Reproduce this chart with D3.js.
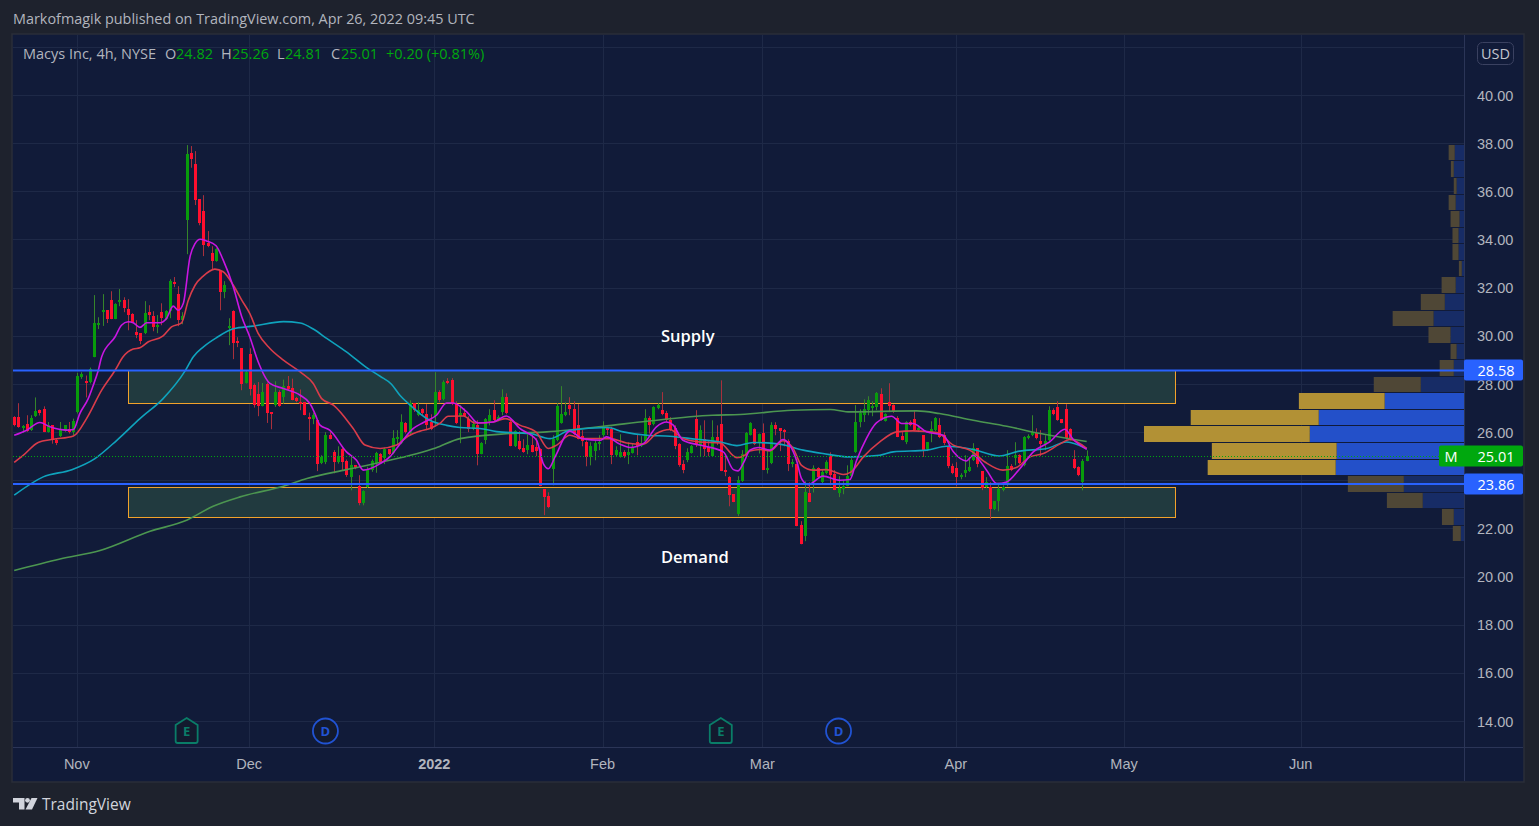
<!DOCTYPE html>
<html>
  <head>
    <meta charset="utf-8">
    <title>Macys Inc, 4h, NYSE</title>
    <script src="https://d3js.org/d3.v7.min.js"></script>
    <style>
      html, body { margin: 0; padding: 0; background: #1e222d; }
      svg { display: block; font-family: "Open Sans", sans-serif; }
      .tick text { fill: #b2b5be; font-size: 14.5px; }
      .domain { display: none; }
    </style>
  </head>
  <body>
    <svg id="chart" width="1539" height="826"></svg>
    <script>
      // candles, one 4h bar per entry
      const opens = [
        26.65,26.64,26.17,26.35,26.10,26.68,26.93,26.97,26.02,26.30,
        25.71,25.82,26.06,26.13,26.02,26.85,28.29,28.13,28.07,29.13,
        30.46,31.00,31.08,31.50,30.71,31.42,31.50,31.13,30.92,30.17,
        30.13,30.13,31.00,30.84,30.42,31.00,30.71,31.04,32.25,31.75,
        30.67,34.82,37.60,37.15,35.69,35.20,33.87,33.45,33.12,32.70,
        31.83,30.34,31.04,29.80,29.50,28.05,29.26,27.97,27.59,27.12,
        28.00,26.85,27.12,27.68,27.47,27.93,27.87,27.43,27.25,27.26,
        26.64,26.55,26.51,24.73,24.77,25.89,25.18,24.77,25.31,24.81,
        24.15,24.64,23.77,23.07,23.72,24.44,24.73,25.10,24.96,25.30,
        25.13,25.72,25.54,26.39,25.96,27.22,26.72,26.97,26.76,26.43,
        26.68,27.68,27.38,28.13,28.17,27.18,26.68,26.80,26.55,26.14,
        26.30,25.10,25.68,26.47,26.93,26.51,26.85,27.47,26.43,25.43,
        25.64,25.35,25.27,25.48,25.39,25.31,23.65,23.36,24.48,25.68,
        26.39,26.72,27.14,26.97,26.30,25.85,25.60,24.99,25.23,25.52,
        25.89,26.18,26.14,25.06,24.98,25.18,25.06,25.14,25.60,25.43,
        25.64,26.60,26.35,27.01,26.93,26.80,26.51,26.18,25.52,24.69,
        24.85,25.14,26.55,25.43,25.72,25.39,25.02,25.81,26.35,24.44,
        24.15,23.44,22.61,23.98,25.06,25.89,26.14,25.56,25.97,24.44,
        24.73,26.30,26.18,26.10,25.64,24.69,24.69,22.15,21.70,23.48,
        23.94,24.52,23.94,24.31,25.02,24.27,23.48,23.65,23.77,24.19,
        25.18,26.43,26.72,26.93,27.05,27.05,27.59,26.47,27.26,27.14,
        26.60,25.85,25.60,26.43,26.55,26.10,25.89,25.31,26.02,26.10,
        26.30,25.89,25.39,24.60,24.52,24.15,24.31,24.40,24.85,25.35,
        24.40,23.73,23.73,22.82,23.15,23.61,23.81,24.60,24.94,25.06,
        24.64,25.77,25.89,25.97,25.64,25.52,25.68,26.93,27.05,26.55,
        26.97,26.14,24.90,24.56,23.94,24.82
      ];
      const highs = [
        26.68,27.22,26.31,26.72,26.72,27.46,26.96,27.09,26.44,26.30,
        25.75,26.44,26.30,26.44,26.58,28.48,28.51,28.37,28.70,31.71,
        30.79,31.75,31.08,31.87,31.37,31.96,31.62,31.54,30.96,30.67,
        30.13,31.46,31.29,31.04,30.88,31.37,31.08,32.37,32.46,32.08,
        31.00,37.94,37.90,37.69,35.69,35.86,34.37,33.74,33.66,32.75,
        32.29,30.75,31.08,29.96,29.50,28.59,29.50,28.04,28.10,28.06,
        28.08,26.85,28.13,27.76,28.20,28.35,28.24,27.48,27.79,27.26,
        26.83,26.83,26.55,25.06,26.02,26.02,25.27,25.43,25.38,24.88,
        25.02,24.64,24.23,23.60,24.58,24.88,25.20,25.15,25.38,25.32,
        26.10,26.10,26.76,26.44,27.34,27.22,27.26,27.01,27.18,26.76,
        28.51,27.76,28.17,28.26,28.26,27.30,27.14,27.00,26.68,26.51,
        26.51,25.60,26.60,26.97,27.34,26.72,27.80,27.63,26.51,26.10,
        26.06,25.72,25.93,25.89,25.77,25.35,23.65,23.52,25.89,27.22,
        27.93,27.26,27.47,27.30,27.18,26.10,25.68,25.60,25.68,25.89,
        26.47,26.24,26.24,25.43,25.93,25.27,25.60,25.56,25.93,25.85,
        26.97,26.68,27.09,27.22,27.68,26.90,26.64,26.30,25.56,24.85,
        25.35,25.48,26.93,26.30,26.51,25.64,26.51,26.30,28.17,25.06,
        24.19,23.44,24.19,25.27,26.02,26.43,26.18,25.96,26.38,25.27,
        26.43,26.43,26.18,26.15,25.72,24.90,24.69,22.32,23.98,23.94,
        24.64,24.56,24.44,24.85,25.18,24.44,24.19,24.02,24.64,24.94,
        27.14,26.97,27.38,27.51,27.30,27.68,27.84,26.80,28.05,27.17,
        26.68,26.02,26.47,26.51,26.93,26.30,25.89,25.60,26.47,26.64,
        26.60,26.02,25.48,24.71,24.77,24.31,25.06,24.90,25.56,25.35,
        24.40,24.15,23.94,23.15,23.86,23.81,25.27,24.69,25.60,25.10,
        25.85,25.93,26.72,26.18,26.10,25.89,27.09,27.01,27.30,26.55,
        27.18,26.18,25.27,24.60,24.90,25.26
      ];
      const lows = [
        26.26,26.20,25.99,26.03,26.07,26.65,26.71,26.02,26.00,25.54,
        25.48,25.82,26.03,25.96,25.89,26.79,28.23,27.46,28.04,29.13,
        30.30,30.43,30.55,30.71,30.71,31.25,31.00,30.25,30.55,29.92,
        29.67,30.09,30.67,30.21,30.13,30.46,30.67,30.75,32.04,30.42,
        30.50,33.41,37.00,35.45,34.61,33.33,33.70,32.75,33.10,31.08,
        31.58,29.63,29.05,29.55,27.76,28.04,27.54,27.04,26.68,27.09,
        26.40,26.14,27.07,27.07,27.20,27.76,27.34,27.26,26.93,26.72,
        25.68,26.35,24.40,24.69,24.69,25.72,24.31,24.71,24.44,24.16,
        23.60,24.48,22.98,22.98,23.70,24.37,24.33,24.70,24.69,25.06,
        25.10,25.48,25.52,25.96,25.89,26.86,26.68,26.72,26.10,26.10,
        26.26,27.26,27.34,28.01,27.14,26.35,25.56,26.65,26.02,26.10,
        24.64,25.10,25.52,26.30,26.47,26.47,26.72,26.76,25.43,25.40,
        25.27,25.16,25.10,25.18,25.02,23.77,22.57,22.86,23.81,25.64,
        26.37,26.68,26.72,25.89,25.72,25.43,24.60,24.64,24.85,25.27,
        25.82,25.90,24.69,25.02,24.96,24.94,24.69,25.13,25.06,25.40,
        25.64,25.96,26.30,26.97,26.72,26.43,26.06,25.31,24.58,24.31,
        24.77,25.13,25.40,25.02,25.02,25.02,24.99,25.48,24.40,24.19,
        22.94,23.11,22.53,23.95,25.02,25.88,25.48,25.13,24.44,24.30,
        24.69,25.89,25.23,25.43,24.40,24.56,22.11,21.36,21.49,23.11,
        23.51,24.10,23.88,24.27,23.81,23.61,23.32,23.44,23.77,24.16,
        25.16,26.22,26.44,26.72,26.68,26.93,26.49,26.46,26.85,26.82,
        25.81,25.68,25.52,26.26,26.06,26.02,24.99,25.23,25.60,26.06,
        25.77,25.48,24.52,24.27,23.77,24.06,24.15,24.37,24.82,24.56,
        23.61,23.69,22.40,22.78,22.73,23.56,23.77,24.40,24.64,24.69,
        24.60,25.72,25.85,25.72,25.02,25.27,25.64,26.72,26.49,26.39,
        25.72,25.68,24.48,24.19,23.60,24.81
      ];
      const closes = [
        26.31,26.24,26.26,26.07,26.60,26.89,26.79,26.02,26.30,25.68,
        25.57,26.13,26.30,26.02,26.47,28.34,28.42,28.06,28.62,30.55,
        30.55,31.08,30.71,30.71,31.33,31.50,31.17,30.88,30.59,30.05,
        29.80,30.96,30.88,30.38,30.46,30.75,31.04,32.29,32.20,30.67,
        30.84,37.56,37.36,35.65,34.70,33.78,33.74,33.12,33.62,31.83,
        32.12,30.42,29.71,29.71,28.00,28.51,27.80,27.12,27.09,27.70,
        26.80,26.76,27.68,27.09,27.93,27.80,27.38,27.30,27.20,26.72,
        26.55,26.72,24.69,24.99,25.89,25.72,24.77,25.02,24.77,24.23,
        24.64,24.52,23.07,23.56,24.48,24.81,25.14,24.78,25.32,25.10,
        25.77,25.81,26.43,26.02,27.22,26.93,26.93,26.79,26.30,26.13,
        27.68,27.34,28.09,28.05,27.18,26.39,26.80,26.68,26.14,26.35,
        25.10,25.56,26.55,26.72,26.51,26.64,27.47,26.80,25.43,26.06,
        25.31,25.18,25.48,25.21,25.23,23.77,23.32,22.90,25.72,27.09,
        26.76,26.85,26.97,25.93,25.72,25.64,24.99,25.43,25.56,25.60,
        26.22,26.10,25.06,25.27,25.18,25.02,25.18,25.39,25.43,25.56,
        26.60,26.30,27.05,27.14,26.76,26.51,26.10,25.43,24.64,24.44,
        25.18,25.43,25.48,26.10,25.31,25.18,25.81,25.60,24.40,24.40,
        23.40,23.11,24.02,25.10,25.97,26.39,25.52,25.93,24.44,24.52,
        26.30,26.14,26.06,26.02,24.69,24.77,22.11,21.36,23.52,23.11,
        24.52,24.15,24.35,24.77,24.23,23.61,23.69,23.77,24.19,24.85,
        26.43,26.80,26.97,27.34,27.09,27.63,26.51,26.76,27.09,26.85,
        25.81,25.68,26.43,26.30,26.10,26.18,25.27,25.60,26.14,26.60,
        25.81,25.54,24.60,24.31,24.15,24.23,24.44,24.56,25.35,24.69,
        23.69,23.94,22.82,23.15,23.65,23.73,24.60,24.44,25.06,24.73,
        25.81,25.85,26.02,25.77,25.52,25.64,26.93,26.76,26.51,26.39,
        25.77,25.72,24.52,24.23,24.81,25.01
      ];

      const magentaLine = [[0,25.89],[3,26.1],[6.1,26.42],[8.5,26.24],[12.5,26.1],[14.1,26.13],[15.6,26.79],[17.6,27.41],[18.8,27.97],[20,28.59],[20.8,29.15],[24,29.98],[25.5,30.46],[27.1,30.6],[28.3,30.56],[29.9,30.37],[31.5,30.56],[34.7,30.56],[36.2,30.74],[37.8,31.25],[39,31.08],[40.2,31.36],[41.8,33.3],[43,33.85],[44.2,34.03],[45.7,33.96],[48,33.76],[49.7,33.16],[52.1,32.05],[54.1,30.81],[56,29.98],[58,28.94],[60.8,28.04],[64,27.83],[68,27.55],[70.3,27.21],[71.5,26.79],[72.7,26.31],[75,26.1],[79,25.2],[81.4,24.85],[83,24.44],[84.6,24.5],[87,24.71],[89.3,24.99],[91.7,25.52],[94.9,26.17],[97.3,26.42],[100.4,26.72],[102.8,27.23],[104.4,27.23],[107.6,26.86],[110.3,26.4],[113.9,26.44],[117,26.69],[120.2,26.17],[124.2,25.68],[125.8,24.71],[127,24.5],[128.6,24.99],[132.1,26.06],[135.1,25.75],[139.3,25.68],[140.8,25.82],[144,25.52],[146.4,25.38],[149.6,25.54],[152.7,26.24],[155.1,26.44],[156.7,26.31],[159,25.68],[163,25.48],[168.6,25.2],[171,24.46],[172.1,24.41],[173.7,24.85],[174.9,25.27],[176.9,25.38],[179.7,25.27],[182.8,25.71],[184.4,25.48],[186,24.85],[187.2,24.09],[188.8,23.84],[192.3,24.19],[196.3,24.02],[198.7,24.05],[200.3,24.85],[202.6,25.75],[205,26.4],[208.6,26.68],[211,26.38],[213.7,26.38],[216.9,26.03],[220.9,25.89],[223.3,25.2],[226.4,24.82],[228,25.06],[231.2,24.44],[233.6,23.88],[236,23.95],[239.1,24.5],[242.3,25.2],[246.2,25.61],[249.8,26.14],[251.8,25.71],[255,25.3]];
      const redLine = [[0,24.76],[2.2,25.06],[5.7,25.59],[9.3,25.72],[14.1,25.86],[17.2,26.58],[20.8,27.76],[24,28.59],[25.9,29.15],[28.3,29.47],[29.9,29.52],[31.9,29.77],[35.4,30.02],[37.4,30.39],[39.8,30.56],[41.4,31.5],[43,32.12],[45,32.51],[47.7,32.79],[49.7,32.68],[52.1,32.12],[54.1,31.5],[56,30.95],[58,30.12],[60.8,29.49],[64,29.01],[68,28.52],[71.1,28.04],[73.1,27.41],[75.9,27.14],[80.6,26.17],[83.4,25.48],[87,25.34],[90.9,25.48],[93.7,25.86],[96.5,26.06],[98.8,26.17],[101.2,26.38],[103.2,26.68],[106.8,26.69],[109.5,26.4],[113.9,26.44],[116.7,26.58],[120.2,26.31],[124.2,26],[127,25.34],[129,25.48],[132.1,25.89],[135.1,25.75],[141.6,25.75],[145.6,25.57],[149.6,25.52],[152.7,25.96],[155.9,26.13],[159,25.75],[163,25.61],[167.8,25.57],[171.8,24.96],[173.7,25.06],[174.9,25.23],[177.3,25.3],[179.7,25.24],[182.8,25.66],[185.2,25.34],[187.2,24.64],[190,24.44],[193.1,24.46],[197.1,24.26],[199,24.37],[201.9,24.99],[205.8,25.61],[209.8,26.03],[213.7,26.07],[219.3,26],[223.3,25.48],[227.2,25.27],[230.8,24.78],[235.1,24.44],[238.3,24.55],[241.5,24.99],[244.7,25.13],[248.6,25.52],[251,25.71],[255,25.34]];
      const cyanLine = [[0,23.4],[6.9,24.16],[13.7,24.46],[19.2,24.92],[24.4,25.68],[29.9,26.58],[35.4,27.41],[40.6,28.55],[42.6,29.15],[45,29.56],[48.1,29.94],[52.1,30.31],[56.8,30.42],[64,30.61],[68,30.55],[71.1,30.3],[74.3,29.91],[79,29.35],[83.8,28.7],[87,28.34],[89.7,28.01],[91.7,27.55],[93.7,27.21],[98.8,26.51],[102.8,26.3],[106,26.21],[110.7,26.17],[114.7,26.04],[122.6,25.96],[127.4,25.75],[132.1,26.1],[141,26.21],[144.8,26.03],[150.4,25.89],[155.9,25.85],[162.2,25.72],[167.8,25.61],[171.8,25.46],[175.7,25.59],[182,25.52],[187.6,25.27],[192.3,25.13],[198.7,24.99],[205.8,25.06],[209,25.2],[217,25.27],[221.7,25.43],[228,25.3],[234.3,25.03],[239,25.23],[245.5,25.34],[250.2,25.61],[255,25.33]];
      const greenLine = [[0,20.27],[10.9,20.75],[20.4,21.1],[32.3,21.9],[41,22.36],[47.3,22.94],[53.7,23.33],[64,23.77],[69.6,24.09],[79,24.46],[87,24.76],[100.2,25.36],[106,25.75],[117.9,25.96],[126.6,26.03],[140,26.26],[150.4,26.47],[166,26.72],[172.6,26.75],[185,26.93],[194,26.96],[198.7,26.86],[214.6,26.9],[220,26.79],[228,26.51],[236,26.26],[244,25.96],[252,25.71],[255,25.63]];

      // volume profile rows, top bin first
      const vpTop = 37.95;
      const vpBin = 0.688;
      const vpBlue = [2.9,3.2,2.3,2.6,1.4,1.7,1.7,0.7,2.6,6.0,9.5,4.2,2.3,3.2,13.5,24.8,45.4,48.2,39.8,40.1,18.8,12.9,3.2,1.0];
      const vpTan = [1.9,0.9,0.9,2.2,2.8,1.9,1.9,0.9,4.4,7.5,12.8,6.9,1.9,4.4,14.7,26.8,40.0,51.8,39.0,40.0,17.5,11.2,3.7,2.5];
      const vpValueArea = [15, 19];

      const priceTicks = [14,16,18,20,22,24,26,28,30,32,34,36,38,40];
      const gridPrices = priceTicks.concat([42]);
      const monthBars = [15,56,100,140,178,224,264,306];
      const monthLabels = ["Nov","Dec","2022","Feb","Mar","Apr","May","Jun"];

      const supplyZone = { from: 27.15, to: 276.1, top: 28.56, bottom: 27.2 };
      const demandZone = { from: 27.15, to: 276.1, top: 23.71, bottom: 22.47 };
      const levels = [28.58, 23.86];
      const lastPrice = 25.01;
      const events = [
        { bar: 41, kind: "E" },
        { bar: 74, kind: "D" },
        { bar: 168, kind: "E" },
        { bar: 196, kind: "D" }
      ];

      const pane = { left: 13, right: 1464, top: 35, bottom: 747 };
      const svg = d3.select("#chart");

      const x = d3.scaleLinear().domain([0, 255]).range([14.2, 1086.7]);
      const y = d3.scaleLinear().domain([14, 40]).range([721.5, 95.5]);
      const vpWidth = d3.scaleLinear().domain([0, 100]).range([0, 320]);

      // backgrounds
      svg.append("rect")
        .attr("x", pane.left - 1).attr("y", pane.top - 1)
        .attr("width", 1523 - pane.left + 2).attr("height", 781 - pane.top + 2)
        .attr("fill", "#111b39").attr("stroke", "#2a2e39").attr("stroke-width", 1.5);

      const defs = svg.append("defs");
      defs.append("clipPath").attr("id", "paneClip")
        .append("rect").attr("x", pane.left).attr("y", pane.top)
        .attr("width", pane.right - pane.left).attr("height", pane.bottom - pane.top);

      // grid
      const grid = svg.append("g").attr("stroke", "#1e2947").attr("stroke-width", 1);
      grid.selectAll(".gridH").data(gridPrices).enter().append("line")
        .attr("x1", pane.left).attr("x2", pane.right)
        .attr("y1", function(d) { return Math.floor(y(d)) + 0.5; })
        .attr("y2", function(d) { return Math.floor(y(d)) + 0.5; });
      grid.selectAll(".gridV").data(monthBars).enter().append("line")
        .attr("x1", function(d) { return Math.floor(x(d)) + 0.5; })
        .attr("x2", function(d) { return Math.floor(x(d)) + 0.5; })
        .attr("y1", pane.top).attr("y2", pane.bottom);

      // axis frames
      svg.append("line").attr("x1", pane.left).attr("x2", 1523)
        .attr("y1", pane.bottom + 0.5).attr("y2", pane.bottom + 0.5).attr("stroke", "#2b3557");
      svg.append("line").attr("x1", pane.right + 0.5).attr("x2", pane.right + 0.5)
        .attr("y1", pane.top).attr("y2", 781).attr("stroke", "#2b3557");

      const plot = svg.append("g").attr("clip-path", "url(#paneClip)");

      // supply and demand boxes
      plot.selectAll(".zone").data([supplyZone, demandZone]).enter().append("rect")
        .attr("x", function(d) { return Math.floor(x(d.from)) + 0.5; })
        .attr("y", function(d) { return Math.floor(y(d.top)) + 0.5; })
        .attr("width", function(d) { return Math.round(x(d.to) - x(d.from)); })
        .attr("height", function(d) { return Math.round(y(d.bottom) - y(d.top)); })
        .attr("fill", "#213a3f")
        .attr("stroke", "#f2a22a").attr("stroke-width", 1);

      // volume profile
      const vpRows = vpBlue.map(function(d, i) {
        return { index: i, blue: d, tan: vpTan[i] };
      });
      function inValueArea(d) {
        return d.index >= vpValueArea[0] && d.index <= vpValueArea[1];
      }
      function vpY(d) { return Math.round(y(vpTop - d.index * vpBin)); }
      function vpH(d) { return Math.round(y(vpTop - (d.index + 1) * vpBin)) - vpY(d) - 1; }
      const vp = plot.append("g");
      vp.selectAll(".blue").data(vpRows).enter().append("rect")
        .attr("x", function(d) { return pane.right - vpWidth(d.blue); })
        .attr("y", vpY).attr("height", vpH)
        .attr("width", function(d) { return vpWidth(d.blue); })
        .attr("fill", function(d) { return inValueArea(d) ? "#2350c9" : "#172c66"; });
      vp.selectAll(".tan").data(vpRows).enter().append("rect")
        .attr("x", function(d) { return pane.right - vpWidth(d.blue) - vpWidth(d.tan); })
        .attr("y", vpY).attr("height", vpH)
        .attr("width", function(d) { return vpWidth(d.tan); })
        .attr("fill", function(d) { return inValueArea(d) ? "#b29135" : "#4f4736"; });

      // candles
      const candles = plot.selectAll(".candle").data(opens).enter().append("g");
      candles.append("rect")
        .attr("x", function(d, i) { return Math.round(x(i)); })
        .attr("width", 1)
        .attr("y", function(d, i) { return y(highs[i]); })
        .attr("height", function(d, i) { return y(lows[i]) - y(highs[i]); })
        .attr("fill", function(d, i) { return closes[i] >= d ? "#35852a" : "#a8303c"; });
      candles.append("rect")
        .attr("x", function(d, i) { return Math.round(x(i)) - 1; })
        .attr("width", 3)
        .attr("y", function(d, i) { return Math.round(y(Math.max(d, closes[i]))); })
        .attr("height", function(d, i) {
          return Math.max(2, Math.round(Math.abs(y(d) - y(closes[i]))));
        })
        .attr("fill", function(d, i) { return closes[i] >= d ? "#089c0c" : "#ff0f2e"; });

      // moving averages
      const line = d3.line()
        .x(function(d) { return x(d[0]); })
        .y(function(d) { return y(d[1]); })
        .curve(d3.curveMonotoneX);
      const maLines = [
        { points: greenLine, color: "#4c9650" },
        { points: cyanLine, color: "#0fa3bd" },
        { points: redLine, color: "#d93c4a" },
        { points: magentaLine, color: "#c916e2" }
      ];
      plot.selectAll(".ma").data(maLines).enter().append("path")
        .attr("d", function(d) { return line(d.points); })
        .attr("fill", "none")
        .attr("stroke", function(d) { return d.color; })
        .attr("stroke-width", 1.6);

      // horizontal levels and last price
      plot.selectAll(".level").data(levels).enter().append("line")
        .attr("x1", pane.left).attr("x2", pane.right)
        .attr("y1", function(d) { return y(d); }).attr("y2", function(d) { return y(d); })
        .attr("stroke", "#2962ff").attr("stroke-width", 2);
      plot.append("line")
        .attr("x1", pane.left).attr("x2", 1440)
        .attr("y1", Math.round(y(lastPrice)) + 0.5).attr("y2", Math.round(y(lastPrice)) + 0.5)
        .attr("stroke", "#00a80e").attr("stroke-width", 1).attr("stroke-dasharray", "1 2");

      // price axis, 24.00 sits under the 23.86 label in the original
      const priceAxis = d3.axisRight(y)
        .tickValues(priceTicks)
        .tickFormat(function(d) { return d === 24 ? "" : d3.format(".2f")(d); })
        .tickSize(0)
        .tickPadding(13);
      svg.append("g").attr("transform", "translate(" + pane.right + ",0)").call(priceAxis);

      // time axis
      const timeAxis = d3.axisBottom(x)
        .tickValues(monthBars)
        .tickFormat(function(d, i) { return monthLabels[i]; })
        .tickSize(0)
        .tickPadding(12);
      const timeGroup = svg.append("g").attr("transform", "translate(-1," + pane.bottom + ")").call(timeAxis);
      timeGroup.selectAll(".tick text")
        .attr("font-weight", function(d, i) { return monthLabels[i] === "2022" ? 700 : 400; });

      // price labels
      function priceLabel(price, left, fill) {
        const cy = Math.round(y(price));
        svg.append("rect")
          .attr("x", left).attr("y", cy - 10.5)
          .attr("width", 1523 - left).attr("height", 21).attr("rx", 2)
          .attr("fill", fill);
        svg.append("text")
          .attr("x", 1496).attr("y", cy + 5.5)
          .attr("text-anchor", "middle")
          .attr("fill", "#ffffff").attr("font-size", 14.5)
          .text(d3.format(".2f")(price));
      }
      levels.forEach(function(d) { priceLabel(d, pane.right, "#2962ff"); });
      priceLabel(lastPrice, 1439, "#00a80e");
      svg.append("text")
        .attr("x", 1451).attr("y", Math.round(y(lastPrice)) + 5.5)
        .attr("text-anchor", "middle")
        .attr("fill", "#ffffff").attr("font-size", 14.5).text("M");

      // currency button
      svg.append("rect")
        .attr("x", 1477.5).attr("y", 42.5).attr("width", 36).attr("height", 22).attr("rx", 5)
        .attr("fill", "none").attr("stroke", "#3a4160");
      svg.append("text")
        .attr("x", 1495.5).attr("y", 58.5).attr("text-anchor", "middle")
        .attr("fill", "#c3c6d0").attr("font-size", 14.5).text("USD");

      // event markers
      const eventGroups = svg.selectAll(".event").data(events).enter().append("g")
        .attr("transform", function(d) { return "translate(" + x(d.bar) + ",731)"; });
      eventGroups.filter(function(d) { return d.kind === "E"; }).append("path")
        .attr("d", "M0,-13 L11,-6 V10 Q11,12 9,12 H-9 Q-11,12 -11,10 V-6 Z")
        .attr("fill", "#131a2e").attr("stroke", "#0a7d68").attr("stroke-width", 1.8);
      eventGroups.filter(function(d) { return d.kind === "D"; }).append("circle")
        .attr("r", 12.5)
        .attr("fill", "#131a2e").attr("stroke", "#2153d3").attr("stroke-width", 1.8);
      eventGroups.append("text")
        .attr("y", 5).attr("text-anchor", "middle")
        .attr("font-size", 13).attr("font-weight", 700)
        .attr("fill", function(d) { return d.kind === "E" ? "#0a7d68" : "#2153d3"; })
        .text(function(d) { return d.kind; });

      // zone captions
      svg.append("text").attr("x", 661).attr("y", 342)
        .attr("fill", "#ffffff").attr("font-size", 16.5).attr("font-weight", 600).text("Supply");
      svg.append("text").attr("x", 661).attr("y", 563)
        .attr("fill", "#ffffff").attr("font-size", 16.5).attr("font-weight", 600).text("Demand");

      // title and legend
      svg.append("text").attr("x", 13).attr("y", 24)
        .attr("fill", "#b2b5be").attr("font-size", 14.4)
        .text("Markofmagik published on TradingView.com, Apr 26, 2022 09:45 UTC");
      const legendParts = [
        { x: 23, text: "Macys Inc, 4h, NYSE", fill: "#b2b5be" },
        { x: 165, text: "O", fill: "#b2b5be" },
        { x: 176, text: "24.82", fill: "#00a80e" },
        { x: 221, text: "H", fill: "#b2b5be" },
        { x: 232, text: "25.26", fill: "#00a80e" },
        { x: 277, text: "L", fill: "#b2b5be" },
        { x: 285, text: "24.81", fill: "#00a80e" },
        { x: 331, text: "C", fill: "#b2b5be" },
        { x: 341, text: "25.01", fill: "#00a80e" },
        { x: 386, text: "+0.20 (+0.81%)", fill: "#00a80e" }
      ];
      svg.selectAll(".legend").data(legendParts).enter().append("text")
        .attr("x", function(d) { return d.x; })
        .attr("y", 59)
        .attr("font-size", 14.5)
        .attr("fill", function(d) { return d.fill; })
        .text(function(d) { return d.text; });

      // tradingview mark and name
      const logo = svg.append("g").attr("fill", "#d1d4dc");
      logo.append("path").attr("d", "M13,798 H24.5 V809.5 H19 V802.5 H13 Z");
      logo.append("circle").attr("cx", 27.5).attr("cy", 800.3).attr("r", 2.4);
      logo.append("path").attr("d", "M31.5,798 H37.5 L32,809.5 H25.5 Z");
      svg.append("text").attr("x", 42).attr("y", 810)
        .attr("fill", "#d1d4dc").attr("font-size", 15.5).text("TradingView");
    </script>
  </body>
</html>
